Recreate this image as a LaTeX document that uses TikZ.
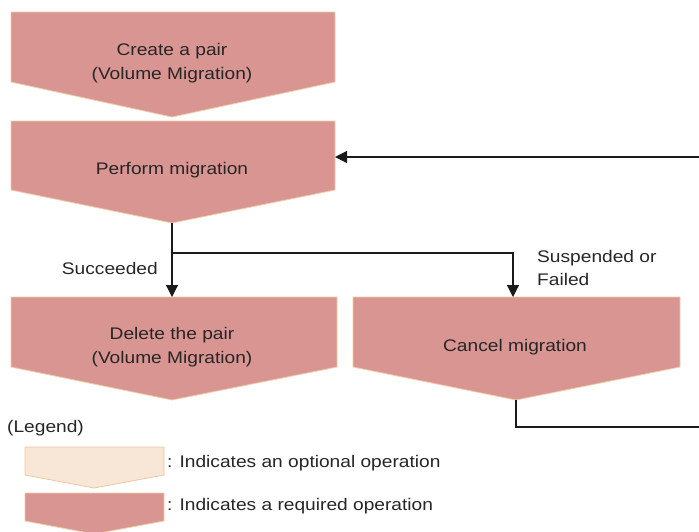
\documentclass[tikz,border=0pt]{standalone}
\usepackage{fontspec}
\setmainfont{Liberation Sans}[FakeStretch=1.14]
\usetikzlibrary{arrows.meta}
\definecolor{reqfill}{HTML}{D99592}
\definecolor{reqedge}{HTML}{F0CDA8}
\definecolor{optfill}{HTML}{F8E6D6}
\definecolor{optedge}{HTML}{EBC8A2}
\definecolor{linecol}{HTML}{1A1A1A}
\tikzset{
  reqshape/.style={fill=reqfill, draw=reqedge, line width=0.8pt},
  optshape/.style={fill=optfill, draw=optedge, line width=0.8pt},
  lbl/.style={font=\fontsize{16.8}{24}\selectfont, text=black!85, align=center, inner sep=0pt},
  conn/.style={draw=linecol, line width=1.2pt},
  arr/.style={conn, -{Triangle[length=12pt,width=12pt]}},
}
\begin{document}
\begin{tikzpicture}[x=1pt,y=-1pt]
\useasboundingbox (0,0) rectangle (699,531);
% shapes
\path[reqshape] (11,12) -- (335,12) -- (335,82) -- (172,117) -- (11,82) -- cycle;
\path[reqshape] (11,121) -- (335,121) -- (335,190) -- (172,223) -- (11,190) -- cycle;
\path[reqshape] (11,297) -- (337,297) -- (337,367) -- (172,400) -- (11,367) -- cycle;
\path[reqshape] (353,297) -- (680,297) -- (680,367) -- (516,400) -- (353,367) -- cycle;
\path[optshape] (25,447) -- (164,447) -- (164,475) -- (94,488) -- (25,475) -- cycle;
\path[reqshape] (25,493) -- (164,493) -- (164,521) -- (94,534) -- (25,521) -- cycle;
% texts
\node[lbl] (create) at (172,63) {Create a pair\\(Volume Migration)};
\node[lbl] (perform) at (172,170) {Perform migration};
\node[lbl] (delete) at (172,347) {Delete the pair\\(Volume Migration)};
\node[lbl] (cancel) at (515,347) {Cancel migration};
\node[lbl, anchor=east] (succ) at (158,268) {Succeeded};
\node[lbl, anchor=west, align=left, font=\fontsize{16.8}{23}\selectfont] (susp) at (537,268) {Suspended or\\Failed};
\node[lbl, anchor=west] (legend) at (7,428) {(Legend)};
\node[lbl, anchor=west] (opt) at (167,463) {: Indicates an optional operation};
\node[lbl, anchor=west] (req) at (167,506) {: Indicates a required operation};
% coordinates
\coordinate (performtip) at (172,223);
\coordinate (deletetop) at (172,297);
\coordinate (split) at (172,253);
\coordinate (splitR) at (513,253);
\coordinate (canceltop) at (513,297);
\coordinate (canceltip) at (516,400);
\coordinate (retbot) at (516,427);
\coordinate (retR) at (699,427);
\coordinate (retTop) at (699,157);
\coordinate (performR) at (335,157);
% connectors
\draw[arr] (performtip) -- (deletetop);
\draw[arr] (split) -- (splitR) -- (canceltop);
\draw[conn] (canceltip) -- (retbot) -- (retR);
\draw[arr] (retTop) -- (performR);
\end{tikzpicture}
\end{document}
